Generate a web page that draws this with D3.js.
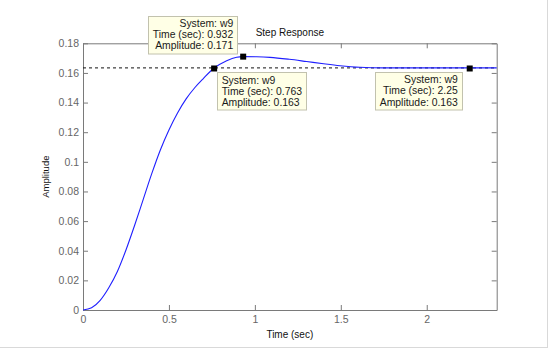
<!DOCTYPE html>
<html><head><meta charset="utf-8">
<script src="https://cdn.jsdelivr.net/npm/d3@7"></script>
<style>
html,body{margin:0;padding:0;background:#fff;}
svg{display:block;font-family:"Liberation Sans",Arial,sans-serif;}
</style></head>
<body>
<svg id="c" width="549" height="349"></svg>
<script>
// ---- data ----
const times = [0, 0.05, 0.10, 0.15, 0.20, 0.25, 0.30, 0.35, 0.40, 0.45, 0.50, 0.55, 0.60, 0.65, 0.70, 0.763, 0.836, 0.894, 0.932, 1.010, 1.088, 1.200, 1.301, 1.400, 1.495, 1.611, 1.746, 2.0, 2.25, 2.407];
const amplitude = [0, 0.0015, 0.0065, 0.0150, 0.0260, 0.0405, 0.0570, 0.0745, 0.0920, 0.1080, 0.1215, 0.1330, 0.1425, 0.1500, 0.1562, 0.1633, 0.1683, 0.1706, 0.171, 0.1709, 0.1705, 0.1692, 0.1677, 0.1662, 0.1649, 0.1638, 0.1634, 0.1634, 0.1634, 0.1634];
const steadyState = 0.1634;
const xTicks = [0, 0.5, 1, 1.5, 2];
const xTickLabels = ["0", "0.5", "1", "1.5", "2"];
const yTicks = [0, 0.02, 0.04, 0.06, 0.08, 0.1, 0.12, 0.14, 0.16, 0.18];
const yTickLabels = ["0", "0.02", "0.04", "0.06", "0.08", "0.1", "0.12", "0.14", "0.16", "0.18"];
const tipSystem = ["w9", "w9", "w9"];
const tipTime = [0.932, 0.763, 2.25];
const tipAmp = [0.171, 0.163, 0.163];
const tipTimeLabels = ["0.932", "0.763", "2.25"];
const tipAmpLabels = ["0.171", "0.163", "0.163"];
const tipPlacement = ["upper-left", "lower-right", "lower-left"];
const titleText = "Step Response";
const xLabelText = "Time (sec)";
const yLabelText = "Amplitude";
const xMax = 2.407, yMax = 0.18;

// ---- layout ----
const L = 83, R = 496.7, T = 43.3, B = 310;
const svg = d3.select("#c");
const x = d3.scaleLinear().domain([0, xMax]).range([L, R]);
const y = d3.scaleLinear().domain([0, yMax]).range([B, T]);

// outer light frame (right & bottom edges)
svg.append("line").attr("x1", 547.5).attr("x2", 547.5).attr("y1", 0).attr("y2", 348).attr("stroke", "#d9d9d9");
svg.append("line").attr("x1", 0).attr("x2", 548).attr("y1", 347.5).attr("y2", 347.5).attr("stroke", "#d9d9d9");

const axisColor = "#7a7a7a", tickText = "#666";
function styleAxis(g) {
  g.selectAll("path").attr("stroke", axisColor);
  g.selectAll("line").attr("stroke", axisColor);
  g.selectAll("text").attr("fill", tickText).style("font-size", "10.5px").style("font-family", '"Liberation Sans",Arial,sans-serif');
}
const gx = svg.append("g").attr("transform", `translate(0,${B})`)
  .call(d3.axisBottom(x).tickValues(xTicks).tickFormat((d, i) => xTickLabels[i]).tickSizeInner(-5).tickSizeOuter(0).tickPadding(6));
styleAxis(gx);
const gy = svg.append("g").attr("transform", `translate(${L},0)`)
  .call(d3.axisLeft(y).tickValues(yTicks).tickFormat((d, i) => yTickLabels[i]).tickSizeInner(-5).tickSizeOuter(0).tickPadding(4));
styleAxis(gy);
const gt = svg.append("g").attr("transform", `translate(0,${T})`)
  .call(d3.axisTop(x).tickValues(xTicks).tickFormat("").tickSizeInner(-5).tickSizeOuter(0));
styleAxis(gt);
const gr = svg.append("g").attr("transform", `translate(${R},0)`)
  .call(d3.axisRight(y).tickValues(yTicks).tickFormat("").tickSizeInner(-5).tickSizeOuter(0));
styleAxis(gr);

// steady-state dashed line
svg.append("line").attr("x1", x(0)).attr("x2", x(xMax))
  .attr("y1", y(steadyState)).attr("y2", y(steadyState))
  .attr("stroke", "#111").attr("stroke-width", 1).attr("stroke-dasharray", "3,3");

// response curve
const pts = times.map((t, i) => [t, amplitude[i]]);
svg.append("path").datum(pts)
  .attr("d", d3.line().x(d => x(d[0])).y(d => y(d[1])).curve(d3.curveMonotoneX))
  .attr("fill", "none").attr("stroke", "#1f1fff").attr("stroke-width", 1.1);

// labels
svg.append("text").attr("x", (L + R) / 2).attr("y", 36).attr("text-anchor", "middle")
  .style("font-size", "10px").attr("fill", "#111").text(titleText);
svg.append("text").attr("x", (L + R) / 2).attr("y", 337.5).attr("text-anchor", "middle")
  .style("font-size", "10px").attr("fill", "#111").text(xLabelText);
svg.append("text").attr("transform", `translate(48.5,${(T + B) / 2}) rotate(-90)`).attr("text-anchor", "middle")
  .style("font-size", "9.5px").attr("fill", "#111").text(yLabelText);

// data tips
const tipFont = 10.4, lineH = 11.2, boxH = 37.5;
tipTime.forEach((t, i) => {
  const mx = x(t), my = y(tipAmp[i]);
  const g = svg.append("g");
  const rect = g.append("rect").attr("fill", "#ffffe6").attr("stroke", "#c2c2ae").attr("stroke-width", 1);
  const lines = ["System: " + tipSystem[i], "Time (sec): " + tipTimeLabels[i], "Amplitude: " + tipAmpLabels[i]];
  const texts = lines.map(s => g.append("text").style("font-size", tipFont + "px").attr("fill", "#1a1a1a").text(s));
  const w = d3.max(texts, tx => tx.node().getComputedTextLength()) + 9;
  const pl = tipPlacement[i];
  let bx, by;
  if (pl === "upper-left") { bx = mx - 5.5 - w; by = my - 3.5 - boxH; }
  else if (pl === "lower-right") { bx = mx + 3; by = my + 4; }
  else { bx = mx - 7.5 - w; by = my + 3.5; }
  rect.attr("x", Math.round(bx) + 0.5).attr("y", Math.round(by) + 0.5).attr("width", Math.round(w)).attr("height", boxH);
  const right = pl !== "lower-right";
  texts.forEach((tx, k) => {
    tx.attr("y", by + 11.3 + k * lineH)
      .attr("x", right ? bx + w - 4.5 : bx + 4.5)
      .attr("text-anchor", right ? "end" : "start");
  });
  svg.append("rect").attr("x", mx - 3).attr("y", my - 3).attr("width", 6).attr("height", 6).attr("fill", "#000");
});
</script>
</body></html>
